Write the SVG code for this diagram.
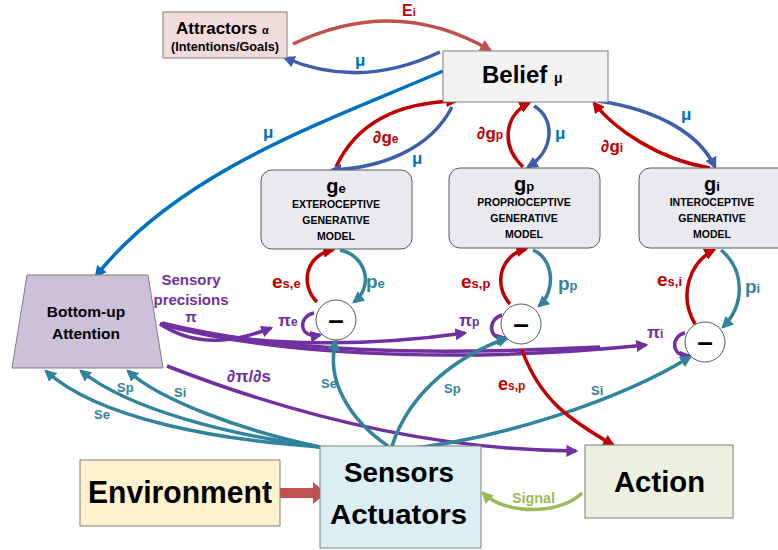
<svg xmlns="http://www.w3.org/2000/svg" width="778" height="550" viewBox="0 0 778 550">
<defs>
<style>
text{font-family:"Liberation Sans",Arial,sans-serif;font-weight:bold}
.box{stroke:#7f7f7f;stroke-width:1}
.mb{fill:#ebe9f0;stroke:#595959;stroke-width:1}
.c{fill:#fff;stroke:#595959;stroke-width:1}
.ln{fill:none;stroke-width:3.5}
.red{stroke:#c00000}
.blu{stroke:#3f5dab}
.lb{stroke:#0070c0}
.tl{stroke:#31849b}
.pu{stroke:#7030a0}
.gr{stroke:#9bbb59}
.er{stroke:#c0504d}
.tr{fill:#c00000}
.tb{fill:#0070c0}
.tt{fill:#31849b}
.tp{fill:#7030a0}
.mt{font-size:10.5px;fill:#000}
</style>
<marker id="aR" markerUnits="userSpaceOnUse" markerWidth="12" markerHeight="12" refX="8" refY="5" orient="auto" viewBox="0 0 10 10"><path d="M0,0L10,5L0,10z" fill="#c00000"/></marker>
<marker id="aE" markerUnits="userSpaceOnUse" markerWidth="12" markerHeight="12" refX="8" refY="5" orient="auto" viewBox="0 0 10 10"><path d="M0,0L10,5L0,10z" fill="#c0504d"/></marker>
<marker id="aB" markerUnits="userSpaceOnUse" markerWidth="12" markerHeight="12" refX="8" refY="5" orient="auto" viewBox="0 0 10 10"><path d="M0,0L10,5L0,10z" fill="#3f5dab"/></marker>
<marker id="aL" markerUnits="userSpaceOnUse" markerWidth="12" markerHeight="12" refX="8" refY="5" orient="auto" viewBox="0 0 10 10"><path d="M0,0L10,5L0,10z" fill="#0070c0"/></marker>
<marker id="aT" markerUnits="userSpaceOnUse" markerWidth="12" markerHeight="12" refX="8" refY="5" orient="auto" viewBox="0 0 10 10"><path d="M0,0L10,5L0,10z" fill="#31849b"/></marker>
<marker id="aP" markerUnits="userSpaceOnUse" markerWidth="12" markerHeight="12" refX="8" refY="5" orient="auto" viewBox="0 0 10 10"><path d="M0,0L10,5L0,10z" fill="#7030a0"/></marker>
<marker id="aG" markerUnits="userSpaceOnUse" markerWidth="12" markerHeight="12" refX="8" refY="5" orient="auto" viewBox="0 0 10 10"><path d="M0,0L10,5L0,10z" fill="#9bbb59"/></marker>
</defs>
<rect width="778" height="550" fill="#fff"/>

<g id="connectors">
<path class="ln er" d="M293,44 Q395,-5 490,50" marker-end="url(#aE)"/>
<path class="ln blu" d="M440,52 Q360,90 285,58" marker-end="url(#aB)"/>
<path class="ln lb" d="M443,71 C330,120 180,170 96,276" marker-end="url(#aL)"/>
<path class="ln red" d="M336,167 C360,115 410,102 456,101" marker-end="url(#aR)"/>
<path class="ln blu" d="M452,107 C430,150 380,168 332,170" marker-end="url(#aB)"/>
<path class="ln red" d="M523,167 C500,145 505,115 529,103" marker-end="url(#aR)"/>
<path class="ln blu" d="M534,106 C555,118 555,150 528,167" marker-end="url(#aB)"/>
<path class="ln red" d="M710,168 C660,160 615,130 594,103" marker-end="url(#aR)"/>
<path class="ln blu" d="M598,101 C660,110 700,135 715,167" marker-end="url(#aB)"/>
<path class="ln red" d="M317,302 C300,285 305,255 333,250" marker-end="url(#aR)"/>
<path class="ln tl" d="M340,250 C365,255 375,285 354,302" marker-end="url(#aT)"/>
<path class="ln red" d="M510,304 C493,285 500,255 526,249" marker-end="url(#aR)"/>
<path class="ln tl" d="M533,250 C553,258 557,290 539,306" marker-end="url(#aT)"/>
<path class="ln red" d="M695,324 C678,295 690,262 714,250" marker-end="url(#aR)"/>
<path class="ln tl" d="M721,250 C745,270 745,305 723,327" marker-end="url(#aT)"/>
<path class="ln pu" d="M314,313 C298,316 298,339 320,335" marker-end="url(#aP)"/>
<path class="ln pu" d="M502,315 C487,319 488,341 506,338" marker-end="url(#aP)"/>
<path class="ln pu" d="M685,333 C670,336 671,358 690,356" marker-end="url(#aP)"/>
<path class="ln pu" d="M160,324 C200,350 240,340 271,328" marker-end="url(#aP)"/>
<path class="ln pu" d="M160,324 C260,350 380,345 465,333" marker-end="url(#aP)"/>
<path class="ln pu" d="M160,324 C300,362 500,360 646,345" marker-end="url(#aP)"/>
<path class="ln pu" d="M162,323 C280,352 420,356 600,347"/>
<path class="ln pu" d="M167,366 C280,410 420,450 576,451" marker-end="url(#aP)"/>
<path class="ln tl" d="M320,447 C220,440 100,420 46,371" marker-end="url(#aT)"/>
<path class="ln tl" d="M320,447 C230,435 130,410 81,371" marker-end="url(#aT)"/>
<path class="ln tl" d="M320,447 C240,430 160,400 128,371" marker-end="url(#aT)"/>
<path class="ln tl" d="M388,446 C350,420 325,380 336,341" marker-end="url(#aT)"/>
<path class="ln tl" d="M392,446 C410,390 460,355 507,338" marker-end="url(#aT)"/>
<path class="ln tl" d="M397,450 C500,440 620,400 690,357" marker-end="url(#aT)"/>
<path class="ln red" d="M522,350 C540,400 570,420 613,445" marker-end="url(#aR)"/>
<path class="ln gr" d="M582,493 C560,515 505,515 483,493" marker-end="url(#aG)"/>
<polygon points="280,488 313,488 313,482 326,493 313,504 313,498 280,498" fill="#c0504d"/>
</g>

<g id="labels">
<text x="402" y="16" class="tr" font-size="16">E<tspan font-size="11">i</tspan></text>
<text x="355" y="66" class="tb" font-size="17">μ</text>
<text x="263" y="138" class="tb" font-size="17">μ</text>
<text x="373" y="143" class="tr" font-size="17">∂g<tspan font-size="12">e</tspan></text>
<text x="412" y="164" class="tb" font-size="17">μ</text>
<text x="477" y="139" class="tr" font-size="17">∂g<tspan font-size="12">p</tspan></text>
<text x="555" y="139" class="tb" font-size="17">μ</text>
<text x="601" y="152" class="tr" font-size="17">∂g<tspan font-size="12">i</tspan></text>
<text x="681" y="120" class="tb" font-size="17">μ</text>
<text x="272" y="288" class="tr" font-size="19">e<tspan font-size="13">s,e</tspan></text>
<text x="366" y="288" class="tt" font-size="19">p<tspan font-size="13">e</tspan></text>
<text x="461" y="288" class="tr" font-size="19">e<tspan font-size="13">s,p</tspan></text>
<text x="558" y="290" class="tt" font-size="19">p<tspan font-size="13">p</tspan></text>
<text x="657" y="286" class="tr" font-size="19">e<tspan font-size="13">s,i</tspan></text>
<text x="745" y="293" class="tt" font-size="19">p<tspan font-size="13">i</tspan></text>
<text x="278" y="326" class="tp" font-size="17">π<tspan font-size="12">e</tspan></text>
<text x="459" y="326" class="tp" font-size="17">π<tspan font-size="12">p</tspan></text>
<text x="647" y="338" class="tp" font-size="17">π<tspan font-size="12">i</tspan></text>
<text x="191" y="285" class="tp" font-size="15" text-anchor="middle">Sensory</text>
<text x="191" y="305" class="tp" font-size="15" text-anchor="middle">precisions</text>
<text x="191" y="322" class="tp" font-size="15" text-anchor="middle">π</text>
<text x="227" y="382" class="tp" font-size="17">∂π/∂s</text>
<text x="94" y="419" class="tt" font-size="13">Se</text>
<text x="117" y="392" class="tt" font-size="13">Sp</text>
<text x="174" y="397" class="tt" font-size="13">Si</text>
<text x="321" y="388" class="tt" font-size="13">Se</text>
<text x="444" y="393" class="tt" font-size="13">Sp</text>
<text x="498" y="390" class="tr" font-size="18">e<tspan font-size="12">s,p</tspan></text>
<text x="591" y="395" class="tt" font-size="13">Si</text>
<text x="512" y="503" font-size="14" fill="#9bbb59" textLength="43" lengthAdjust="spacingAndGlyphs">Signal</text>
</g>

<g id="attractors">
<rect class="box" x="163" y="12" width="124" height="46" fill="#f2dcdb"/>
<text x="176" y="34" font-size="17" fill="#000">Attractors <tspan font-size="11">α</tspan></text>
<text x="225" y="51" font-size="12" fill="#000" text-anchor="middle" textLength="108" lengthAdjust="spacingAndGlyphs">(Intentions/Goals)</text>
</g>
<g id="belief">
<rect class="box" x="443" y="51" width="165" height="51" fill="#f2f2f2"/>
<text x="482" y="83" font-size="24" fill="#000">Belief <tspan font-size="14">μ</tspan></text>
</g>
<g id="exteroceptive">
<rect class="mb" x="261" y="170" width="151" height="79" rx="11"/>
<text x="336" y="193" font-size="20" text-anchor="middle" fill="#000">g<tspan font-size="13">e</tspan></text>
<text x="336" y="208" class="mt" text-anchor="middle">EXTEROCEPTIVE</text>
<text x="336" y="224" class="mt" text-anchor="middle">GENERATIVE</text>
<text x="336" y="240" class="mt" text-anchor="middle">MODEL</text>
</g>
<g id="proprioceptive">
<rect class="mb" x="449" y="168" width="151" height="80" rx="11"/>
<text x="524" y="191" font-size="20" text-anchor="middle" fill="#000">g<tspan font-size="13">p</tspan></text>
<text x="524" y="206" class="mt" text-anchor="middle">PROPRIOCEPTIVE</text>
<text x="524" y="222" class="mt" text-anchor="middle">GENERATIVE</text>
<text x="524" y="238" class="mt" text-anchor="middle">MODEL</text>
</g>
<g id="interoceptive">
<rect class="mb" x="639" y="168" width="150" height="80" rx="11"/>
<text x="712" y="191" font-size="20" text-anchor="middle" fill="#000">g<tspan font-size="13">i</tspan></text>
<text x="712" y="206" class="mt" text-anchor="middle">INTEROCEPTIVE</text>
<text x="712" y="222" class="mt" text-anchor="middle">GENERATIVE</text>
<text x="712" y="238" class="mt" text-anchor="middle">MODEL</text>
</g>
<g id="cmp-e"><circle class="c" cx="336" cy="320" r="20"/><text x="336" y="329" font-size="28" text-anchor="middle">–</text></g>
<g id="cmp-p"><circle class="c" cx="521" cy="324" r="20"/><text x="521" y="333" font-size="28" text-anchor="middle">–</text></g>
<g id="cmp-i"><circle class="c" cx="705" cy="342" r="20"/><text x="705" y="351" font-size="28" text-anchor="middle">–</text></g>
<g id="attention">
<polygon class="box" points="27,275 148,275 163,368 12,368" fill="#ccc0da"/>
<text x="86" y="317" font-size="15.5" text-anchor="middle">Bottom-up</text>
<text x="86" y="339" font-size="15.5" text-anchor="middle">Attention</text>
</g>
<g id="environment">
<rect class="box" x="80" y="460" width="200" height="66" fill="#fff2cc"/>
<text x="88" y="503" font-size="31" textLength="184" lengthAdjust="spacingAndGlyphs">Environment</text>
</g>
<g id="sensors">
<rect class="box" x="320" y="446" width="161" height="102" fill="#daeef3"/>
<text x="344" y="482" font-size="28" textLength="110" lengthAdjust="spacingAndGlyphs">Sensors</text>
<text x="330" y="524" font-size="28" textLength="137" lengthAdjust="spacingAndGlyphs">Actuators</text>
</g>
<g id="action">
<rect class="box" x="585" y="445" width="148" height="73" fill="#ebf1de"/>
<text x="614" y="492" font-size="30" textLength="91" lengthAdjust="spacingAndGlyphs">Action</text>
</g>
</svg>
